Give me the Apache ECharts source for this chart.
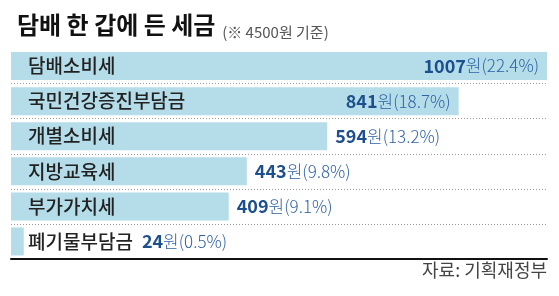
<!DOCTYPE html>
<html><head><meta charset="utf-8">
<script src="https://cdn.jsdelivr.net/npm/echarts@6/dist/echarts.min.js"></script>
<style>html,body{margin:0;padding:0;background:#fff}#c{width:559px;height:296px}</style>
</head><body><div id="c"></div>
<script>
const categories = ['담배소비세', '국민건강증진부담금', '개별소비세', '지방교육세', '부가가치세', '폐기물부담금'];
const amounts = [1007, 841, 594, 443, 409, 24];
const shares = [22.4, 18.7, 13.2, 9.8, 9.1, 0.5];
const titleText = '담배 한 갑에 든 세금';
const noteText = '(※ 4500원 기준)';
const sourceText = '자료: 기획재정부';

const FF = '"Noto Sans CJK KR", "Noto Sans", sans-serif';
const NAME_SIZE = 19, NAME_MARGIN = 17;
const chart = echarts.init(document.getElementById('c'), null, {renderer: 'canvas'});

function buildData(distances) {
  return amounts.map((v, i) => ({
    value: v,
    label: {
      position: v > 700 ? 'insideRight' : 'right',
      distance: distances ? distances[i] : 8
    }
  }));
}

const option = {
  animation: false,
  title: {
    left: 12, top: 4,
    text: '{a|' + titleText + '}{b|  ' + noteText + '}',
    textStyle: {
      fontWeight: 'normal',
      rich: {
        a: {fontSize: 24, fontWeight: 'bold', color: '#111', fontFamily: FF, lineHeight: 31},
        b: {fontSize: 15, fontWeight: 'normal', color: '#555', fontFamily: FF, verticalAlign: 'bottom', lineHeight: 23}
      }
    }
  },
  grid: {left: 11, right: 12, top: 48.5, bottom: 37},
  xAxis: {
    type: 'value', min: 0, max: 1007,
    axisLine: {show: true, onZero: false, lineStyle: {color: '#111', width: 2}},
    axisTick: {show: false}, axisLabel: {show: false}, splitLine: {show: false}
  },
  yAxis: {
    type: 'category', data: categories, inverse: true, z: 10,
    axisLine: {show: false}, axisTick: {show: false},
    axisLabel: {inside: true, margin: NAME_MARGIN, color: '#222', fontSize: NAME_SIZE, fontWeight: 500, fontFamily: FF},
    splitLine: {show: true, showMinLine: false, showMaxLine: false, lineStyle: {color: '#999', type: [1, 2], width: 1}}
  },
  series: [{
    type: 'bar',
    barWidth: 28,
    itemStyle: {color: '#b4dde9'},
    data: buildData(null),
    label: {
      show: true,
      formatter: p => '{n|' + amounts[p.dataIndex] + '}{u|원(' + shares[p.dataIndex].toFixed(1) + '%)}',
      rich: {
        n: {fontSize: 18, fontWeight: 'bold', color: '#1d4f8e', fontFamily: FF},
        u: {fontSize: 17, fontWeight: 300, color: '#2f62a3', fontFamily: FF}
      }
    }
  }],
  graphic: [{
    type: 'text', right: 12, top: 261,
    style: {text: sourceText, fontSize: 18, fill: '#444', fontFamily: FF}
  }]
};
chart.setOption(option);

// push a label past the category name when the bar is too short
const ctx = document.createElement('canvas').getContext('2d');
ctx.font = '500 ' + NAME_SIZE + 'px ' + FF;
const x0 = chart.convertToPixel({gridIndex: 0}, [0, 0])[0];
const distances = amounts.map((v, i) => {
  const barEnd = chart.convertToPixel({gridIndex: 0}, [v, i])[0];
  const nameEnd = x0 + NAME_MARGIN + ctx.measureText(categories[i]).width;
  if (v <= 700 && nameEnd + 9 > barEnd + 8) return nameEnd + 9 - barEnd;
  return 8;
});
chart.setOption({series: [{data: buildData(distances)}]});
</script></body></html>
